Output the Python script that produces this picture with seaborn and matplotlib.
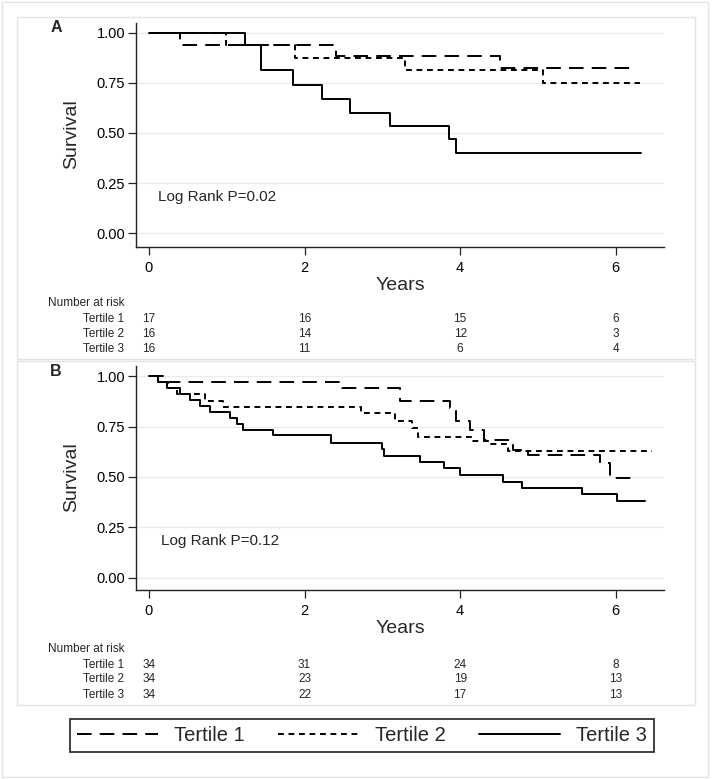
import numpy as np
import pandas as pd
import matplotlib
matplotlib.use("Agg")
import matplotlib.pyplot as plt
import matplotlib.transforms as mtransforms
from matplotlib.lines import Line2D
from matplotlib.patches import Rectangle
from matplotlib import font_manager
import seaborn as sns

# ---------------- data ----------------
groups = ["Tertile 1", "Tertile 2", "Tertile 3"]

# Panel A
A_t1_time = [0, 0.40, 2.41, 4.51]
A_t1_surv = [1.0, 0.941, 0.882, 0.826]
A_t1_end = 6.18
A_t2_time = [0, 0.99, 1.88, 3.29, 5.06]
A_t2_surv = [1.0, 0.9375, 0.875, 0.8125, 0.75]
A_t2_end = 6.31
A_t3_time = [0, 1.24, 1.44, 1.85, 2.23, 2.58, 3.10, 3.86, 3.95]
A_t3_surv = [1.0, 0.9375, 0.8125, 0.74, 0.67, 0.60, 0.535, 0.47, 0.40]
A_t3_end = 6.33

# Panel B
B_t1_time = [0, 0.18, 2.48, 3.23, 3.87, 3.95, 4.13, 4.30, 4.68, 4.87, 5.80, 5.92]
B_t1_surv = [1.0, 0.971, 0.941, 0.878, 0.843, 0.776, 0.735, 0.684, 0.634, 0.609, 0.568, 0.494]
B_t1_end = 6.28
B_t2_time = [0, 0.12, 0.25, 0.36, 0.72, 0.95, 2.73, 3.16, 3.38, 3.46, 4.17, 4.40, 4.62]
B_t2_surv = [1.0, 0.971, 0.941, 0.912, 0.879, 0.849, 0.816, 0.780, 0.742, 0.700, 0.680, 0.665, 0.629]
B_t2_end = 6.46
B_t3_time = [0, 0.12, 0.23, 0.40, 0.53, 0.66, 0.78, 1.04, 1.13, 1.21, 1.59, 2.34, 2.99, 3.02,
             3.48, 3.79, 4.00, 4.55, 4.79, 5.56, 6.01]
B_t3_surv = [1.0, 0.971, 0.941, 0.912, 0.882, 0.853, 0.824, 0.794, 0.765, 0.735, 0.706, 0.670,
             0.637, 0.604, 0.573, 0.543, 0.510, 0.477, 0.447, 0.414, 0.381]
B_t3_end = 6.38

risk_times = [0, 2, 4, 6]
A_risk_t1 = [17, 16, 15, 6]
A_risk_t2 = [16, 14, 12, 3]
A_risk_t3 = [16, 11, 6, 4]
B_risk_t1 = [34, 31, 24, 8]
B_risk_t2 = [34, 23, 19, 13]
B_risk_t3 = [34, 22, 17, 13]

A_ptext = "Log Rank P=0.02"
B_ptext = "Log Rank P=0.12"
x_ticks = [0, 2, 4, 6]
y_ticks = [0.0, 0.25, 0.50, 0.75, 1.00]
y_ticklabels = ["0.00", "0.25", "0.50", "0.75", "1.00"]

# ---------------- style ----------------
sns.set_theme(style="white")
avail = {f.name for f in font_manager.fontManager.ttflist}
base_font = "Liberation Sans" if "Liberation Sans" in avail else "DejaVu Sans"
narrow_font = "Liberation Sans Narrow" if "Liberation Sans Narrow" in avail else base_font
plt.rcParams["font.family"] = [base_font, "DejaVu Sans"]

W, H = 713, 779
fig = plt.figure(figsize=(W / 100, H / 100), dpi=100)
fig.patch.set_facecolor("white")


def fx(px):
    return px / W


def fy(py):
    return 1 - py / H


LW = 1.4
dash_map = {"Tertile 1": (7.5, 4.2), "Tertile 2": (3.0, 2.4), "Tertile 3": ""}


def make_df(series):
    rows = []
    for g, times, surv, end in series:
        tt = list(times) + [end]
        ss = list(surv) + [surv[-1]]
        for t, s in zip(tt, ss):
            rows.append({"time": t, "surv": s, "group": g})
    return pd.DataFrame(rows)


def panel(ax_box, series, ptext, risks, letter, letter_y, years_y, surv_y,
          nar_y, row_ys, ylim_bottom):
    left, top, right, bottom = ax_box
    ax = fig.add_axes([fx(left), fy(bottom), fx(right) - fx(left), fy(top) - fy(bottom)])
    df = make_df(series)
    sns.lineplot(data=df, x="time", y="surv", style="group", style_order=groups,
                 dashes=dash_map, color="black", linewidth=LW, drawstyle="steps-post",
                 estimator=None, sort=True, legend=False, ax=ax)
    ax.set_xlim(-0.163, 6.62)
    ax.set_ylim(ylim_bottom, 1.05)
    ax.set_xticks(x_ticks)
    ax.set_xticklabels([str(t) for t in x_ticks], fontsize=10.5)
    ax.set_yticks(y_ticks)
    ax.set_yticklabels(y_ticklabels, fontsize=10.5)
    for yv in y_ticks:
        ax.axhline(yv, color="#ebebeb", lw=1.0, zorder=0)
    for s in ["top", "right"]:
        ax.spines[s].set_visible(False)
    for s in ["left", "bottom"]:
        ax.spines[s].set_color("#222222")
        ax.spines[s].set_linewidth(1.0)
    ax.tick_params(axis="both", direction="out", length=5.5, width=0.9, color="#222222",
                   left=True, bottom=True, labelcolor="black")
    ax.tick_params(axis="x", pad=4.5)
    ax.tick_params(axis="y", pad=2.5)
    ax.set_xlabel("")
    ax.set_ylabel("")
    ax.patch.set_alpha(0)
    ax.text(0.11 if letter == "A" else 0.15, 0.183, ptext, fontsize=11, ha="left", va="center")

    fig.text(fx((left + right) / 2), fy(years_y), "Years", fontsize=14, ha="center", va="center")
    fig.text(fx(72), fy(surv_y), "Survival", fontsize=14, rotation=90, ha="center", va="center")
    fig.text(fx(56), fy(letter_y), letter, fontsize=11.5, fontweight="bold", ha="center",
             va="center")

    trans = mtransforms.blended_transform_factory(ax.transData, fig.transFigure)
    fig.text(fx(48), fy(nar_y), "Number at risk", fontsize=8.5, family=narrow_font,
             ha="left", va="center")
    for g, ry, vals in zip(groups, row_ys, risks):
        fig.text(fx(124), fy(ry), g, fontsize=8.5, family=narrow_font, ha="right", va="center")
        for t, v in zip(risk_times, vals):
            ax.text(t, fy(ry), str(v), transform=trans, fontsize=8.5, family=narrow_font,
                    ha="center", va="center", clip_on=False)
    return ax


seriesA = [("Tertile 1", A_t1_time, A_t1_surv, A_t1_end),
           ("Tertile 2", A_t2_time, A_t2_surv, A_t2_end),
           ("Tertile 3", A_t3_time, A_t3_surv, A_t3_end)]
seriesB = [("Tertile 1", B_t1_time, B_t1_surv, B_t1_end),
           ("Tertile 2", B_t2_time, B_t2_surv, B_t2_end),
           ("Tertile 3", B_t3_time, B_t3_surv, B_t3_end)]

axA = panel((136.3, 22.7, 664, 246.7), seriesA, A_ptext, [A_risk_t1, A_risk_t2, A_risk_t3],
            "A", 27, 285, 134.5, 303, [319, 334, 349], -0.067)
axB = panel((136.3, 366.2, 664, 590), seriesB, B_ptext, [B_risk_t1, B_risk_t2, B_risk_t3],
            "B", 371, 628.5, 477, 649, [664.5, 679.5, 694.5], -0.061)

# frames
frame_col = "#e4e4e4"
for (x0, y0, x1, y1) in [(2, 2, 708, 777), (17, 17, 695, 359), (17, 361, 695, 705)]:
    fig.add_artist(Rectangle((fx(x0), fy(y1)), fx(x1) - fx(x0), fy(y0) - fy(y1),
                             transform=fig.transFigure, facecolor="none",
                             edgecolor=frame_col, lw=1.0, zorder=0))

# legend
handles = [Line2D([0], [0], color="black", lw=LW,
                  linestyle=(0, dash_map[g]) if dash_map[g] else "-") for g in groups]
leg = fig.legend(handles, groups, loc="lower left",
                 bbox_to_anchor=(fx(70), fy(752), fx(654) - fx(70), fy(714) - fy(752)),
                 mode="expand", ncol=3, fontsize=14.5, frameon=True, fancybox=False,
                 handlelength=4.0, handletextpad=0.8, borderpad=0.35, borderaxespad=0,
                 columnspacing=1.5)
leg.get_frame().set_edgecolor("black")
leg.get_frame().set_linewidth(1.3)
for t in leg.get_texts():
    t.set_family(narrow_font)

fig.savefig("out.png", dpi=100)
